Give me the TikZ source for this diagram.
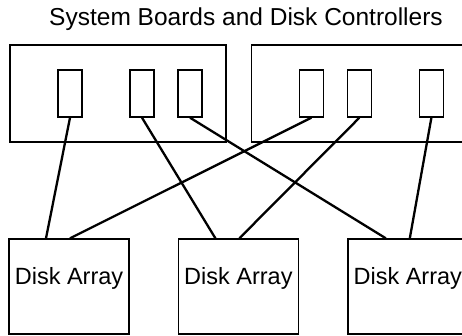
\documentclass[tikz,border=0pt]{standalone}
\usepackage{fontspec}
\setmainfont{Liberation Sans}
\usetikzlibrary{positioning,calc}

\begin{document}
\begin{tikzpicture}[x=1pt, y=1pt,
    board/.style={draw, line width=1.4pt, minimum width=216pt, minimum height=97pt, inner sep=0pt},
    ctrl/.style={draw, line width=1.4pt, minimum width=24pt, minimum height=47pt, inner sep=0pt},
    disk/.style={draw, line width=1.4pt, minimum width=120pt, minimum height=95pt, inner sep=0pt,
        font=\fontsize{23.5}{28}\selectfont, text depth=22pt},
    cable/.style={line width=2.3pt}]
        \useasboundingbox (0,0) rectangle (462,336);
        \clip (0,0) rectangle (462,336);

        % Title
        \node[anchor=base, font=\fontsize{24.5}{28}\selectfont] (title) at (246,310) {System Boards and Disk Controllers};

        % System boards
        \node[board] (board1) at (118,242.5) {};
        \node[board, right=24pt of board1] (board2) {};

        % Disk controllers
        \node[ctrl] (ctrl1) at ($(board1.center)+(-48,0)$) {};
        \node[ctrl] (ctrl2) at ($(board1.center)+(24,0)$) {};
        \node[ctrl] (ctrl3) at ($(board1.center)+(72,0)$) {};
        \node[ctrl] (ctrl4) at ($(board2.center)+(-48,0)$) {};
        \node[ctrl] (ctrl5) at (board2.center) {};
        \node[ctrl] (ctrl6) at ($(board2.center)+(72,0)$) {};

        % Disk arrays
        \node[disk] (disk1) at (69,49.5) {Disk Array};
        \node[disk, right=48pt of disk1] (disk2) {Disk Array};
        \node[disk, right=48pt of disk2] (disk3) {Disk Array};

        % Cables
        \draw[cable] (ctrl1.south) -- ($(disk1.north)+(-23,0)$);
        \draw[cable] (ctrl4.south) -- ($(disk1.north)+(1,0)$);
        \draw[cable] (ctrl2.south) -- ($(disk2.north)+(-23,0)$);
        \draw[cable] (ctrl5.south) -- ($(disk2.north)+(1,0)$);
        \draw[cable] (ctrl3.south) -- ($(disk3.north)+(-22,0)$);
        \draw[cable] (ctrl6.south) -- ($(disk3.north)+(2,0)$);
    \end{tikzpicture}
\end{document}
